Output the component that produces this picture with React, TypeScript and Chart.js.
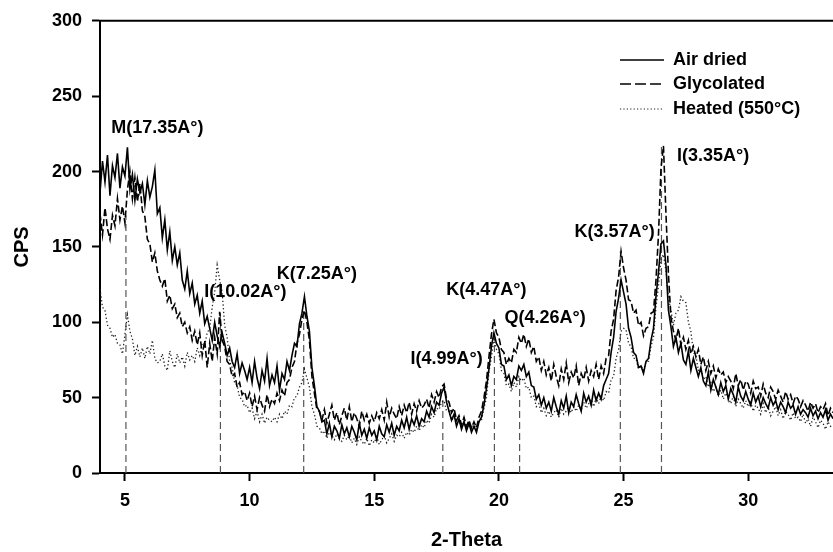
import React, { useEffect, useRef } from "react";
import { Chart, registerables } from "chart.js";

Chart.register(...registerables);

// Scan grid: 2-Theta from 4.0° in 0.1° steps
const SCAN_START = 4.0;
const SCAN_STEP = 0.1;

// Intensities (CPS) per scan step
const AIR_DRIED = [
  186, 207, 193, 211, 184, 204, 196, 212, 189, 203, // 4.x
  197, 216, 188, 198, 181, 195, 186, 192, 178, 194, // 5.x
  183, 190, 201, 172, 176, 156, 168, 148, 160, 141, // 6.x
  150, 138, 146, 128, 122, 134, 119, 126, 112, 118, // 7.x
  106, 114, 99, 104, 96, 88, 100, 91, 84, 93, // 8.x
  86, 78, 83, 74, 70, 79, 66, 73, 68, 62, // 9.x
  70, 60, 74, 63, 56, 68, 61, 76, 58, 65, // 10.x
  60, 71, 55, 66, 62, 74, 68, 78, 86, 84, // 11.x
  99, 106, 117, 104, 94, 70, 58, 44, 41, 34, // 12.x
  35, 26, 33, 24, 31, 28, 23, 32, 26, 30, // 13.x
  24, 31, 27, 22, 33, 25, 29, 23, 30, 25, // 14.x
  28, 22, 31, 26, 24, 32, 27, 33, 25, 31, // 15.x
  28, 35, 30, 37, 29, 36, 32, 38, 31, 36, // 16.x
  34, 41, 37, 44, 40, 47, 45, 53, 57, 47, // 17.x
  41, 35, 39, 31, 36, 29, 34, 28, 33, 27, // 18.x
  31, 27, 34, 37, 45, 56, 69, 84, 93, 86, // 19.x
  83, 72, 71, 62, 65, 58, 64, 62, 71, 68, // 20.x
  72, 64, 67, 58, 57, 49, 52, 45, 50, 43, // 21.x
  47, 41, 50, 44, 39, 48, 43, 51, 40, 47, // 22.x
  44, 52, 46, 41, 53, 47, 51, 45, 55, 48, // 23.x
  53, 49, 58, 62, 66, 80, 90, 107, 116, 128, // 24.x
  120, 112, 96, 90, 80, 78, 70, 71, 66, 74, // 25.x
  76, 88, 96, 117, 133, 152, 154, 138, 108, 97, // 26.x
  84, 90, 80, 86, 75, 72, 81, 68, 76, 70, // 27.x
  64, 70, 61, 58, 67, 55, 62, 57, 52, 60, // 28.x
  54, 58, 49, 56, 52, 47, 57, 51, 48, 54, // 29.x
  49, 45, 53, 47, 51, 44, 50, 46, 43, 50, // 30.x
  45, 48, 42, 47, 44, 40, 47, 43, 45, 39, // 31.x
  44, 39, 42, 40, 37, 43, 38, 41, 36, 40, // 32.x
  37, 42, 35, 39, 36, // 33.0-33.4
];

const GLYCOLATED = [
  172, 158, 176, 162, 155, 171, 164, 182, 168, 177, // 4.x
  166, 188, 200, 182, 196, 180, 192, 174, 170, 155, // 5.x
  152, 140, 146, 134, 128, 124, 129, 114, 118, 109, // 6.x
  112, 103, 106, 97, 100, 93, 97, 88, 94, 85, // 7.x
  93, 78, 88, 70, 86, 74, 90, 79, 107, 88, // 8.x
  84, 74, 72, 64, 66, 57, 60, 52, 54, 48, // 9.x
  53, 44, 51, 42, 50, 45, 41, 52, 44, 49, // 10.x
  46, 53, 48, 55, 51, 60, 62, 70, 74, 86, // 11.x
  92, 102, 108, 100, 88, 64, 53, 42, 41, 35, // 12.x
  42, 33, 39, 45, 35, 40, 32, 38, 43, 35, // 13.x
  44, 34, 40, 36, 31, 41, 35, 39, 33, 38, // 14.x
  34, 40, 36, 42, 35, 47, 37, 43, 39, 36, // 15.x
  44, 38, 45, 40, 47, 39, 46, 41, 48, 43, // 16.x
  45, 49, 43, 52, 47, 54, 50, 57, 59, 49, // 17.x
  47, 40, 43, 35, 38, 32, 37, 31, 35, 30, // 18.x
  34, 30, 37, 41, 50, 61, 77, 92, 102, 93, // 19.x
  90, 82, 80, 72, 76, 73, 82, 80, 90, 86, // 20.x
  92, 84, 89, 80, 84, 74, 77, 68, 74, 65, // 21.x
  70, 61, 72, 64, 58, 69, 62, 73, 60, 67, // 22.x
  63, 71, 58, 66, 62, 70, 61, 68, 64, 72, // 23.x
  62, 71, 66, 76, 78, 94, 102, 121, 130, 147, // 24.x
  136, 128, 115, 114, 106, 108, 98, 100, 91, 96, // 25.x
  97, 106, 107, 128, 158, 202, 217, 172, 132, 103, // 26.x
  94, 88, 96, 85, 90, 82, 88, 79, 84, 77, // 27.x
  82, 72, 77, 68, 74, 66, 71, 63, 69, 65, // 28.x
  67, 60, 64, 61, 56, 66, 58, 62, 55, 61, // 29.x
  59, 53, 61, 56, 57, 51, 59, 53, 50, 57, // 30.x
  54, 49, 55, 51, 47, 54, 49, 52, 46, 51, // 31.x
  49, 44, 48, 45, 41, 47, 43, 46, 40, 44, // 32.x
  42, 46, 38, 43, 40, // 33.0-33.4
];

const HEATED = [
  122, 110, 108, 98, 96, 90, 92, 86, 85, 79, // 4.x
  92, 105, 94, 89, 78, 84, 77, 83, 76, 84, // 5.x
  79, 88, 76, 73, 74, 79, 71, 68, 81, 74, // 6.x
  70, 79, 73, 77, 71, 80, 75, 78, 74, 83, // 7.x
  78, 86, 85, 93, 96, 110, 120, 138, 128, 120, // 8.x
  98, 90, 74, 70, 60, 58, 50, 49, 44, 45, // 9.x
  40, 43, 36, 41, 34, 39, 33, 37, 35, 34, // 10.x
  37, 34, 39, 36, 41, 39, 45, 44, 50, 51, // 11.x
  57, 60, 69, 63, 57, 44, 39, 31, 30, 26, // 12.x
  28, 23, 27, 25, 22, 26, 23, 21, 25, 22, // 13.x
  25, 20, 23, 19, 24, 21, 19, 23, 18, 22, // 14.x
  20, 24, 19, 22, 25, 20, 23, 26, 21, 25, // 15.x
  24, 27, 23, 27, 25, 29, 27, 31, 28, 32, // 16.x
  30, 35, 33, 39, 37, 43, 42, 47, 48, 41, // 17.x
  41, 35, 37, 32, 35, 30, 34, 29, 33, 30, // 18.x
  32, 29, 34, 35, 43, 50, 67, 77, 89, 82, // 19.x
  79, 68, 66, 58, 59, 54, 60, 57, 64, 61, // 20.x
  63, 56, 57, 50, 51, 44, 46, 40, 43, 38, // 21.x
  41, 37, 40, 42, 37, 43, 39, 41, 44, 40, // 22.x
  44, 41, 45, 42, 47, 43, 46, 49, 44, 50, // 23.x
  46, 51, 48, 54, 53, 62, 64, 76, 82, 94, // 24.x
  96, 95, 86, 84, 76, 76, 69, 71, 68, 74, // 25.x
  74, 84, 90, 110, 124, 142, 145, 134, 116, 108, // 26.x
  98, 106, 108, 117, 114, 113, 100, 94, 80, 78, // 27.x
  68, 69, 62, 64, 57, 60, 54, 57, 51, 55, // 28.x
  49, 53, 50, 46, 51, 44, 49, 46, 43, 48, // 29.x
  44, 47, 41, 45, 43, 39, 46, 40, 44, 38, // 30.x
  41, 44, 38, 42, 36, 41, 39, 35, 40, 36, // 31.x
  37, 34, 39, 33, 36, 31, 37, 34, 30, 35, // 32.x
  33, 29, 34, 31, 32, // 33.0-33.4
];

// Reflection markers: 2-Theta position and height of each drop line
const DROP_ANGLE = [5.04, 8.83, 12.17, 17.75, 19.82, 20.83, 24.87, 26.52];
const DROP_TOP = [171, 106, 108, 50, 90, 63, 147, 217];

// Reflection labels and their anchor (2-Theta, CPS)
const PEAK_LABELS = [
  "M(17.35A°)",
  "I(10.02A°)",
  "K(7.25A°)",
  "I(4.99A°)",
  "K(4.47A°)",
  "Q(4.26A°)",
  "K(3.57A°)",
  "I(3.35A°)",
];
const LABEL_ANGLE = [6.3, 9.83, 12.7, 17.9, 19.5, 21.85, 24.64, 28.59];
const LABEL_CPS = [229, 120, 132, 75.7, 121.7, 102.6, 160, 210.5];

const X_TICKS = [5, 10, 15, 20, 25, 30];
const Y_TICKS = [0, 50, 100, 150, 200, 250, 300];

const SERIES_NAMES = ["Air dried", "Glycolated", "Heated (550°C)"];

const FONT = "'Liberation Sans', Arial, Helvetica, sans-serif";

const toPoints = (values: number[]) =>
  values.map((y, i) => ({ x: +(SCAN_START + i * SCAN_STEP).toFixed(2), y }));

const seriesStyles = [
  { borderColor: "#000", borderWidth: 1.6, borderDash: [] as number[] },
  { borderColor: "#000", borderWidth: 1.6, borderDash: [7, 3] },
  { borderColor: "#222", borderWidth: 1.3, borderDash: [1.3, 2.4] },
];

const frameAndLabels = {
  id: "frameAndLabels",
  afterDatasetsDraw(chart: any) {
    const { ctx, chartArea, scales } = chart;
    const xs = scales.x;
    const ys = scales.y;
    ctx.save();
    // top frame line
    ctx.strokeStyle = "#000";
    ctx.lineWidth = 2;
    ctx.setLineDash([]);
    ctx.beginPath();
    ctx.moveTo(chartArea.left - 1, chartArea.top);
    ctx.lineTo(chartArea.right, chartArea.top);
    ctx.stroke();

    // reflection labels
    ctx.fillStyle = "#000";
    ctx.font = `bold 18px ${FONT}`;
    ctx.textAlign = "center";
    ctx.textBaseline = "middle";
    PEAK_LABELS.forEach((t, i) => {
      ctx.fillText(t, xs.getPixelForValue(LABEL_ANGLE[i]), ys.getPixelForValue(LABEL_CPS[i]));
    });

    // legend
    const lx0 = chartArea.right - 213;
    const lx1 = lx0 + 44;
    const rows = [60, 84, 109];
    ctx.textAlign = "left";
    SERIES_NAMES.forEach((name, i) => {
      const s = seriesStyles[i];
      ctx.strokeStyle = s.borderColor;
      ctx.lineWidth = i === 2 ? 1.2 : 1.6;
      ctx.setLineDash(i === 1 ? [11, 4] : i === 2 ? [1.2, 2.2] : []);
      ctx.beginPath();
      ctx.moveTo(lx0, rows[i]);
      ctx.lineTo(lx1, rows[i]);
      ctx.stroke();
      ctx.setLineDash([]);
      ctx.fillText(name, lx1 + 9, rows[i]);
    });
    ctx.restore();
  },
};

export default function App() {
  const canvasRef = useRef<HTMLCanvasElement | null>(null);

  useEffect(() => {
    if (!canvasRef.current) return;
    const series = [AIR_DRIED, GLYCOLATED, HEATED].map((vals, i) => ({
      label: SERIES_NAMES[i],
      data: toPoints(vals),
      ...seriesStyles[i],
      pointRadius: 0,
      tension: 0,
      fill: false,
      order: 1,
    }));
    const drops = DROP_ANGLE.map((a, i) => ({
      label: "drop" + i,
      data: [
        { x: a, y: 0 },
        { x: a, y: DROP_TOP[i] },
      ],
      borderColor: "#555",
      borderWidth: 1.2,
      borderDash: [7, 4],
      pointRadius: 0,
      fill: false,
      order: 2,
    }));

    const chart = new Chart(canvasRef.current, {
      type: "line",
      data: { datasets: [...series, ...drops] as any },
      plugins: [frameAndLabels],
      options: {
        responsive: false,
        animation: false,
        layout: { padding: { top: 17, left: 0, right: 0, bottom: 0 } },
        plugins: {
          legend: { display: false },
          tooltip: { enabled: false },
        },
        scales: {
          x: {
            type: "linear",
            min: 4,
            max: 33.4,
            afterFit: (s: any) => {
              s.height = 79;
            },
            afterBuildTicks: (s: any) => {
              s.ticks = X_TICKS.map((v) => ({ value: v }));
            },
            grid: {
              drawOnChartArea: false,
              drawTicks: true,
              tickLength: 8,
              tickColor: "#000",
              tickWidth: 2,
            },
            border: { display: true, color: "#000", width: 2 },
            ticks: {
              color: "#000",
              font: { family: FONT, size: 18, weight: "bold" },
              padding: 9,
              maxRotation: 0,
            },
            title: {
              display: true,
              text: "2-Theta",
              color: "#000",
              font: { family: FONT, size: 20, weight: "bold" },
              padding: { top: 0, bottom: 0 },
            },
          },
          y: {
            type: "linear",
            min: 0,
            max: 300,
            afterFit: (s: any) => {
              s.width = 100;
            },
            afterBuildTicks: (s: any) => {
              s.ticks = Y_TICKS.map((v) => ({ value: v }));
            },
            grid: {
              drawOnChartArea: false,
              drawTicks: true,
              tickLength: 8,
              tickColor: "#000",
              tickWidth: 2,
            },
            border: { display: true, color: "#000", width: 2 },
            ticks: {
              color: "#000",
              font: { family: FONT, size: 18, weight: "bold" },
              padding: 10,
            },
            title: {
              display: true,
              text: "CPS",
              color: "#000",
              font: { family: FONT, size: 20, weight: "bold" },
              padding: { top: 10, bottom: 0 },
            },
          },
        },
      },
    });
    return () => chart.destroy();
  }, []);

  return (
    <div style={{ position: "absolute", left: 0, top: 0, width: 833, height: 552, background: "#fff" }}>
      <canvas ref={canvasRef} width={833} height={552} />
    </div>
  );
}
